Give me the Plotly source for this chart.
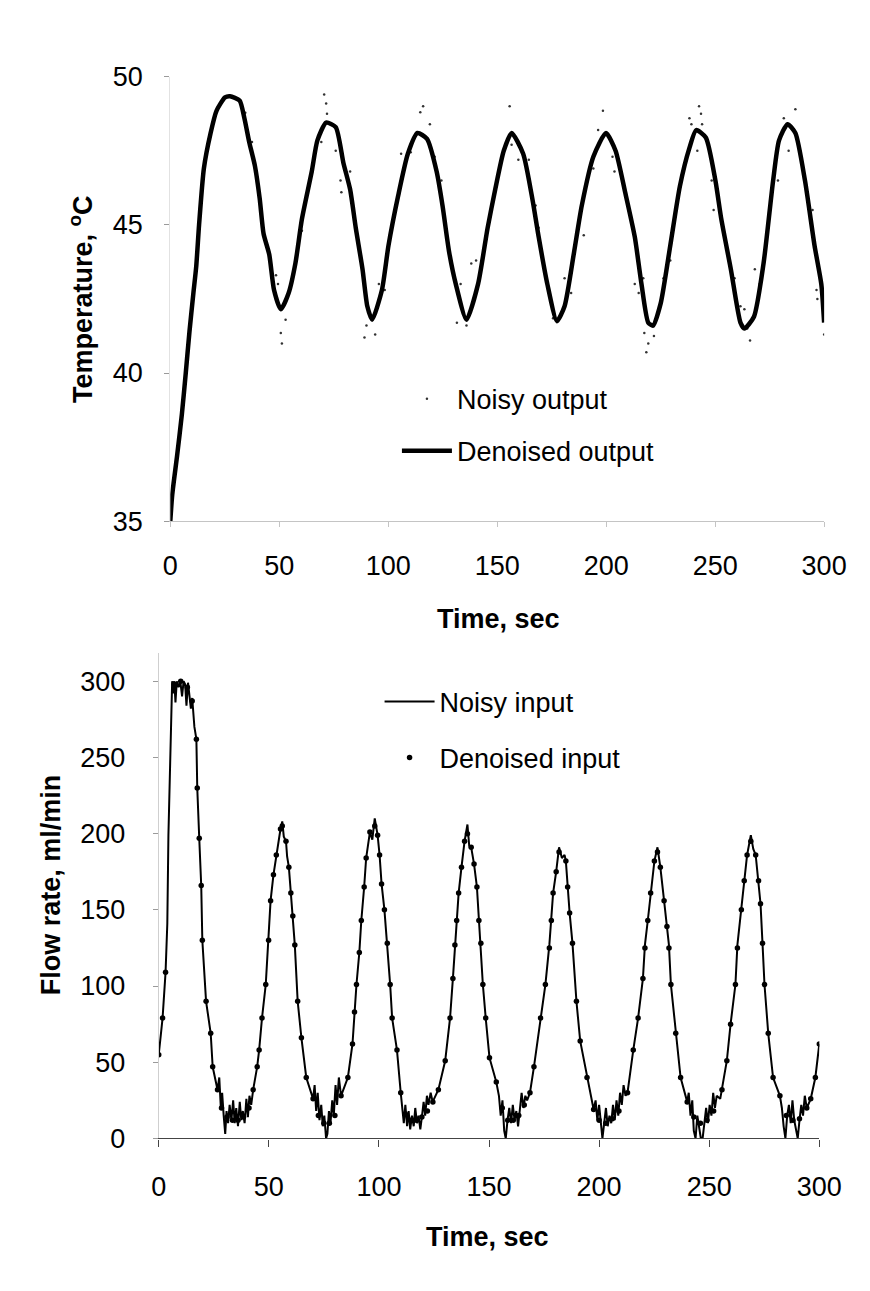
import plotly.graph_objects as go

# ---------------- Top chart: temperature ----------------
t_den_out = [0, 0.9, 3.1, 5.3, 7.1, 8.8, 10.6, 11.9, 13.2, 15.4, 18.5, 21.2, 25.1, 27.4, 31.8, 34.0, 36.2, 38.8,
             41.0, 42.8, 45.4, 47.6, 50.7, 54.3, 57.4, 60.4, 64.9, 67.5, 71.5, 75.9, 79.4, 82.5, 85.1, 88.2,
             90.4, 92.6, 97.1, 100.1, 104.6, 109.0, 113.4, 117.8, 122.2, 124.9, 127.9, 131.0, 135.9, 141.2,
             145.6, 149.1, 153.0, 156.6, 161.9, 166.3, 169.0, 173.0, 177.4, 180.9, 185.3, 188.8, 194.1, 199.9,
             204.3, 208.7, 213.1, 216.2, 219.3, 221.5, 225.0, 229.4, 233.8, 238.2, 241.3, 245.7, 250.1, 252.8,
             257.2, 261.6, 263.4, 267.8, 272.2, 276.6, 279.3, 283.2, 286.8, 291.2, 295.6, 298.7, 300.0]
T_den_out = [35.0, 35.9, 37.2, 38.6, 40.0, 41.4, 42.7, 43.6, 45.0, 46.9, 48.1, 48.85, 49.3, 49.34, 49.2, 48.6, 47.8, 47.0,
             45.9, 44.7, 44.0, 42.8, 42.15, 42.7, 43.7, 45.2, 46.8, 47.85, 48.45, 48.3, 47.1, 46.2, 44.9, 43.5,
             42.25, 41.8, 42.8, 44.3, 46.0, 47.4, 48.1, 47.9, 46.8, 45.65, 44.1, 43.0, 41.8, 43.0,
             44.9, 46.2, 47.5, 48.1, 47.4, 45.8, 44.6, 43.0, 41.75, 42.25, 44.1, 45.65, 47.3, 48.1,
             47.5, 46.1, 44.6, 43.0, 41.7, 41.6, 42.35, 44.3, 46.3, 47.6, 48.2, 47.95, 46.5, 45.2,
             43.5, 41.7, 41.5, 41.9, 43.7, 46.5, 47.85, 48.4, 48.1, 46.5, 44.3, 43.0, 41.7]

t_noisy_out = [34.4, 37.5, 48.5, 49.4, 52.9, 50.7, 51.2, 56.0, 60.4, 70.6, 71.5, 71.9, 69.3, 75.9, 78.1, 78.5, 82.5,
               89.6, 89.1, 90.0, 94.0, 95.7, 98.4, 116.0, 114.7, 119.1, 105.9, 110.3, 121.3, 124.4, 133.2, 131.5,
               135.9, 138.1, 140.3, 146.5, 155.7, 156.6, 159.7, 164.5, 167.6, 169.0, 180.9, 182.2, 183.9, 175.6,
               198.5, 196.3, 202.9, 203.8, 189.7, 194.1, 213.1, 214.9, 217.0, 217.5, 218.4, 219.3, 221.9, 229.4,
               226.3, 238.2, 239.1, 242.6, 243.5, 244.0, 241.8, 248.4, 249.3, 258.9, 261.6, 263.4, 266.0, 264.7,
               268.2, 270.4, 281.5, 286.8, 283.7, 278.8, 294.7, 296.5, 296.9, 300.0]
T_noisy_out = [48.78, 47.8, 43.3, 43.0, 41.8, 41.35, 41.0, 43.2, 44.8, 49.4, 49.1, 48.75, 47.8, 47.5, 46.5, 46.1, 46.8,
               42.6, 41.2, 41.6, 41.3, 43.0, 42.8, 49.0, 48.8, 48.4, 47.4, 47.45, 47.3, 46.5, 43.0, 41.7,
               41.6, 43.7, 43.8, 45.1, 49.0, 47.7, 47.2, 47.2, 45.65, 44.9, 43.2, 42.6, 42.7, 41.85,
               48.85, 48.2, 47.3, 46.8, 44.65, 46.9, 43.0, 42.7, 43.2, 41.35, 40.7, 41.0, 41.25, 43.8,
               43.2, 48.6, 48.4, 49.0, 48.75, 48.4, 47.5, 46.5, 45.5, 43.2, 42.25, 42.15, 41.1, 41.5,
               43.5, 43.0, 48.6, 48.9, 47.5, 46.5, 45.5, 42.8, 42.5, 41.3]

# ---------------- Bottom chart: flow rate ----------------
t_noisy_in = [0, 1.75, 3.1, 3.9, 4.4, 5.3, 6.1, 6.6, 7.1, 7.6, 8.2, 9.0, 9.8, 10.6, 11.3, 12.0, 12.6, 13.3, 14.0, 14.6,
              15.2, 16.2, 17.1, 17.5, 18.4, 19.3, 19.8, 21.5, 23.6, 24.5, 26.7, 27.5, 28.2, 28.8, 29.5, 30.2, 30.8,
              31.5, 32.2, 33.0, 33.8, 34.5, 35.2, 36.0, 36.8, 37.5, 38.2, 39.0, 39.8, 40.5, 41.2, 42.0, 42.9, 44.7,
              45.6, 46.9, 48.6, 49.9, 50.8, 52.1, 53.4, 54.5, 55.3, 56.1, 56.8, 57.8, 58.3, 59.1, 60.0, 60.9, 61.8,
              63.1, 64.8, 67.0, 70.1,
              70.8, 71.5, 72.2, 73.0, 73.8, 74.5, 75.2, 76.0, 76.6, 77.3, 78.0, 78.8, 79.5, 80.3, 81.0, 81.8, 82.8,
              85.9, 88.0, 88.9, 89.8, 91.1, 92.0, 93.3, 94.2, 95.9, 97.0, 98.1, 99.4, 100.3, 101.2, 102.5, 103.8,
              105.1, 106.0, 108.2, 109.9,
              110.6, 111.3, 112.0, 112.8, 113.5, 114.2, 115.0, 115.8, 116.5, 117.3, 118.0, 118.8, 119.5, 120.3,
              121.0, 121.8, 122.5, 123.5, 124.4, 127.0, 130.1, 132.3, 133.6, 134.5, 135.3, 136.2, 137.5, 138.9,
              140.2, 141.0, 141.9, 143.2, 144.5, 145.4, 146.3, 147.2, 148.5, 150.2, 153.3,
              154.5, 155.3, 156.1, 156.9, 157.6, 158.4, 159.2, 160.0, 160.8, 161.6, 162.4, 163.2, 164.0, 164.8,
              165.6, 166.5, 167.3, 168.6, 170.4, 173.4, 175.6, 177.4, 178.3, 179.1, 180.5, 181.8, 183.1, 184.3,
              184.9, 185.7, 186.6, 187.9, 189.7, 191.4, 194.5, 197.5,
              198.4, 199.2, 200.0, 200.8, 201.5, 202.3, 203.1, 203.9, 204.7, 205.5, 206.3, 207.1, 207.9, 208.7,
              209.5, 210.3, 211.1, 212.0, 212.9, 215.5, 217.7, 219.9, 220.8, 222.1, 223.4, 225.1, 226.5, 227.2,
              227.8, 229.5, 230.8, 231.7, 232.6, 234.8, 237.0, 240.0,
              240.7, 241.5, 242.3, 243.0, 243.8, 244.6, 245.4, 246.2, 247.0, 247.8, 248.6, 249.4, 250.2, 251.0,
              251.8, 252.6, 253.4, 255.0, 255.8, 258.0, 259.7, 261.9, 262.8, 264.6, 265.9, 267.2, 268.9, 270.0,
              271.1, 272.4, 273.3, 274.2, 275.1, 276.8, 279.0, 282.1,
              283.0, 283.8, 284.6, 285.4, 286.2, 287.0, 287.8, 288.6, 289.4, 290.2, 291.0, 291.8, 292.6, 293.4,
              294.3, 296.1, 298.2, 300.0]
v_noisy_in = [55, 79, 109, 141, 199, 257, 300, 292, 300, 286, 300, 296, 300, 290, 300, 298, 284, 299, 288, 282,
              289, 270, 262, 230, 197, 166, 130, 90, 69, 47, 32, 40, 20, 30, 15, 3, 18,
              10, 22, 12, 25, 10, 20, 8, 24, 12, 18, 10, 26, 14, 28, 22, 32, 47,
              58, 79, 101, 130, 156, 173, 186, 195, 203, 208, 198, 195, 185, 178, 161, 146, 127,
              90, 66, 40, 26,
              35, 18, 30, 12, 22, 8, 15, 0, 3, 18, 10, 25, 15, 35, 22, 40, 28,
              40, 62, 83, 101, 122, 143, 165, 184, 201, 196, 210, 199, 186, 167, 150, 128,
              101, 79, 58, 30,
              20, 10, 22, 8, 18, 6, 15, 8, 20, 10, 15, 6, 14, 24,
              15, 28, 22, 30, 24, 32, 51, 79, 105, 127, 143, 161, 178, 195,
              206, 192, 191, 180, 165, 143, 128, 101, 79, 53, 37,
              28, 15, 25, 5, 0, 12, 20, 10, 22, 12, 18, 8, 20, 30,
              20, 28, 25, 30, 47, 79, 101, 127, 143, 161, 175, 191, 184, 186,
              182, 165, 148, 128, 90, 64, 40, 19,
              25, 12, 22, 8, 0, 10, 20, 8, 15, 10, 22, 12, 25, 15,
              30, 22, 35, 28, 30, 58, 79, 105, 127, 143, 161, 182, 191, 184,
              178, 156, 139, 127, 101, 69, 40, 24,
              30, 15, 25, 5, 0, 15, 8, 0, 0, 12, 20, 10, 22, 15,
              30, 20, 28, 26, 32, 51, 75, 101, 127, 150, 169, 186, 199, 190,
              186, 169, 154, 128, 101, 69, 40, 28,
              20, 8, 0, 15, 22, 10, 25, 12, 5, 0, 12, 22, 15, 28,
              20, 26, 40, 62]

t_den_in = [0, 1.75, 3.1, 7.0, 10.0, 13.0, 15.2, 17.1, 17.5, 18.4, 19.3, 19.8, 21.5, 23.6, 24.5, 26.7, 28.5, 31.0,
            33.5, 36.0, 38.5, 41.0, 42.9, 44.7, 45.6, 46.9, 48.6, 49.9, 50.8, 52.1, 53.4, 55.3, 56.1, 57.8, 59.1,
            60.0, 60.9, 61.8, 63.1, 64.8, 67.0, 70.1, 72.5, 75.0, 77.5, 80.0, 82.8, 85.9, 88.0, 88.9, 89.8, 91.1,
            92.0, 93.3, 94.2, 95.9, 98.1, 99.4, 100.3, 101.2, 102.5, 103.8, 105.1, 106.0, 108.2, 109.9, 112.0,
            114.5, 117.0, 119.5, 122.0, 124.5, 127.0, 130.1, 132.3, 133.6, 134.5, 135.3, 136.2, 137.5, 138.9,
            140.2, 141.9, 143.2, 144.5, 145.4, 146.3, 147.2, 148.5, 150.2, 153.3, 156.0, 158.5, 161.0, 163.5,
            166.0, 168.6, 170.4, 173.4, 175.6, 177.4, 178.3, 179.1, 180.5, 181.8, 184.9, 185.7, 186.6, 187.9,
            189.7, 191.4, 194.5, 197.5, 200.0, 203.0, 206.0, 209.0, 212.9, 215.5, 217.7, 219.9, 220.8, 222.1,
            223.4, 225.1, 226.5, 227.8, 229.5, 230.8, 231.7, 232.6, 234.8, 237.0, 240.0, 243.0, 246.0, 249.0,
            252.0, 255.8, 258.0, 259.7, 261.9, 262.8, 264.6, 265.9, 267.2, 268.9, 271.1, 272.4, 273.3, 274.2,
            275.1, 276.8, 279.0, 282.1, 285.0, 288.0, 291.0, 294.3, 296.1, 298.2, 300.0]
v_den_in = [55, 79, 109, 298, 300, 296, 287, 262, 230, 197, 166, 130, 90, 69, 47, 32, 20, 14,
            12, 12, 14, 20, 32, 47, 58, 79, 101, 130, 156, 173, 186, 203, 205, 195, 178,
            161, 146, 127, 90, 66, 40, 26, 15, 10, 10, 15, 28, 40, 62, 83, 101, 122,
            143, 165, 184, 201, 205, 199, 186, 167, 150, 128, 101, 79, 58, 30, 16,
            12, 12, 14, 18, 24, 32, 51, 79, 105, 127, 143, 161, 178, 195,
            200, 191, 180, 165, 143, 128, 101, 79, 53, 37, 20, 12, 12, 15,
            22, 30, 47, 79, 101, 125, 143, 161, 175, 188, 182, 165, 148, 128,
            90, 64, 40, 19, 12, 10, 13, 18, 30, 58, 79, 105, 125, 143,
            161, 182, 188, 178, 156, 139, 125, 101, 69, 40, 24, 14, 10, 12,
            18, 32, 51, 75, 101, 125, 150, 169, 186, 195, 186, 169, 154, 128,
            101, 69, 40, 28, 15, 12, 13, 20, 26, 40, 62]

x_ticks = [0, 50, 100, 150, 200, 250, 300]
temp_ticks = [35, 40, 45, 50]
flow_ticks = [0, 50, 100, 150, 200, 250, 300]

FONT = "Liberation Sans, Arial, sans-serif"
W, H = 870, 1291

def px_x(p):
    return p / W

def px_y(p):
    return 1 - p / H

fig = go.Figure()

fig.add_trace(go.Scatter(x=t_noisy_out, y=T_noisy_out, mode="markers", name="Noisy output",
                         marker=dict(size=2.5, color="#333333"), xaxis="x", yaxis="y",
                         legend="legend", legendgroup="a"))
fig.add_trace(go.Scatter(x=t_den_out, y=T_den_out, mode="lines", name="Denoised output",
                         line=dict(color="black", width=4.5, shape="spline", smoothing=0.6),
                         xaxis="x", yaxis="y", legend="legend", legendgroup="b"))

fig.add_trace(go.Scatter(x=t_noisy_in, y=v_noisy_in, mode="lines", name="Noisy input",
                         line=dict(color="black", width=2), xaxis="x2", yaxis="y2",
                         legend="legend2", legendgroup="c"))
fig.add_trace(go.Scatter(x=t_den_in, y=v_den_in, mode="markers", name="Denoised input",
                         marker=dict(size=5.5, color="black"), xaxis="x2", yaxis="y2",
                         legend="legend2", legendgroup="d"))

tickfont = dict(family=FONT, size=27, color="black")

fig.update_layout(
    width=W, height=H,
    margin=dict(l=0, r=0, t=0, b=0),
    paper_bgcolor="white", plot_bgcolor="white",
    font=dict(family=FONT, size=27, color="black"),
    xaxis=dict(domain=[px_x(160), px_x(838)], range=[0, 300], tickvals=x_ticks, tickfont=tickfont,
               showgrid=False, zeroline=False, showline=True, linecolor="#c4c4c4", linewidth=1,
               ticks="outside", ticklen=5, tickcolor="#c4c4c4", ticklabelstandoff=15, anchor="y"),
    yaxis=dict(domain=[px_y(510), px_y(55)], range=[35, 50], tickvals=temp_ticks, tickfont=tickfont,
               showgrid=False, zeroline=False, showline=True, linecolor="#e2e2e2", linewidth=1,
               ticks="outside", ticklen=5, tickcolor="#9a9a9a", ticklabelstandoff=16, anchor="x"),
    xaxis2=dict(domain=[px_x(148), px_x(833)], range=[0, 300], tickvals=x_ticks, tickfont=tickfont,
                showgrid=False, zeroline=False, showline=True, linecolor="#444444", linewidth=1.2,
                ticks="outside", ticklen=7, tickcolor="#444444", ticklabelstandoff=17, anchor="y2"),
    yaxis2=dict(domain=[px_y(1142), px_y(645)], range=[0, 318.5], tickvals=flow_ticks, tickfont=tickfont,
                showgrid=False, zeroline=False, showline=True, linecolor="#cfcfcf", linewidth=1,
                ticks="outside", ticklen=5, tickcolor="#9a9a9a", ticklabelstandoff=22, anchor="x2"),
    legend=dict(x=px_x(395), y=px_y(360), xanchor="left", yanchor="top", bgcolor="rgba(0,0,0,0)",
                font=dict(family=FONT, size=27, color="black"), tracegroupgap=14, traceorder="grouped",
                itemwidth=50),
    legend2=dict(x=px_x(377), y=px_y(670), xanchor="left", yanchor="top", bgcolor="rgba(0,0,0,0)",
                 font=dict(family=FONT, size=27, color="black"), tracegroupgap=18, traceorder="grouped",
                 itemwidth=50),
    annotations=[
        dict(text="<b>Temperature, <sup>o</sup>C</b>", x=px_x(68), y=px_y(283), xref="paper", yref="paper",
             textangle=-90, showarrow=False, xanchor="center", yanchor="middle",
             font=dict(family=FONT, size=27, color="black")),
        dict(text="<b>Time, sec</b>", x=px_x(500), y=px_y(610), xref="paper", yref="paper",
             showarrow=False, xanchor="center", yanchor="middle",
             font=dict(family=FONT, size=27, color="black")),
        dict(text="<b>Flow rate, ml/min</b>", x=px_x(36), y=px_y(882), xref="paper", yref="paper",
             textangle=-90, showarrow=False, xanchor="center", yanchor="middle",
             font=dict(family=FONT, size=27, color="black")),
        dict(text="<b>Time, sec</b>", x=px_x(489), y=px_y(1243), xref="paper", yref="paper",
             showarrow=False, xanchor="center", yanchor="middle",
             font=dict(family=FONT, size=27, color="black")),
    ],
)

fig.write_html("out.html")
